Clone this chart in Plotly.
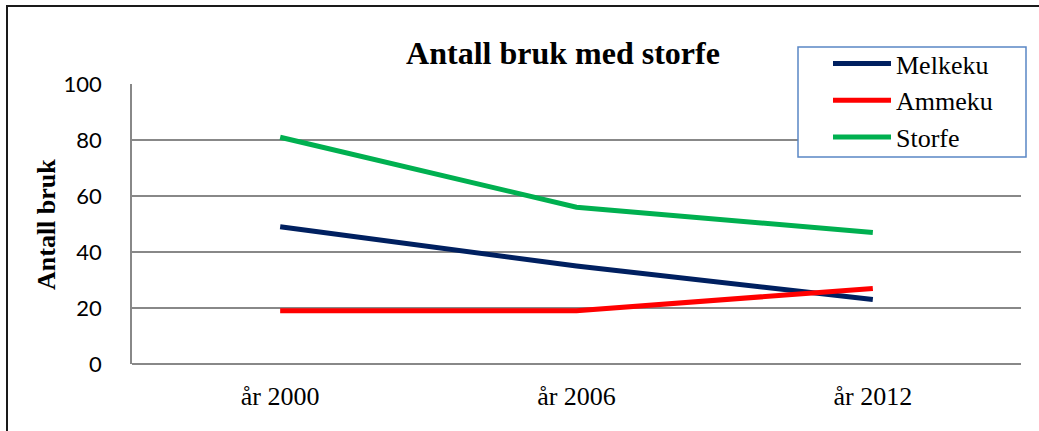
import plotly.graph_objects as go

years = ["år 2000", "år 2006", "år 2012"]
melkeku = [49, 35, 23]
ammeku = [19, 19, 27]
storfe = [81, 56, 47]
y_ticks = [0, 20, 40, 60, 80, 100]

W, H = 1039, 431
L, T = 132, 84
R = W - 1021
B = H - 364
pw, ph = W - L - R, H - T - B

def px_x(x):
    return (x - L) / pw

def px_y(y):
    return (H - B - y) / ph

fig = go.Figure()
series = [("Melkeku", melkeku, "#002060"), ("Ammeku", ammeku, "#FF0000"), ("Storfe", storfe, "#00B050")]
for name, vals, col in series:
    fig.add_trace(go.Scatter(x=years, y=vals, name=name, mode="lines",
                             line=dict(color=col, width=5)))

serif = "Liberation Serif, Times New Roman, serif"
fig.update_layout(
    width=W, height=H,
    margin=dict(l=L, r=R, t=T, b=B),
    paper_bgcolor="white", plot_bgcolor="white",
    font=dict(family=serif, color="black"),
    showlegend=True,
    title=dict(text="<b>Antall bruk med storfe</b>", font=dict(family=serif, size=32, color="black"),
               x=px_x(563), xref="paper", xanchor="center",
               y=1 - 53 / H, yref="container", yanchor="middle"),
    legend=dict(x=px_x(828), y=px_y(40), xanchor="left", yanchor="top",
                bgcolor="rgba(0,0,0,0)", borderwidth=0,
                font=dict(family=serif, size=26, color="black"),
                itemwidth=58, tracegroupgap=0),
    xaxis=dict(type="category", range=[-0.5, 2.5], showgrid=False,
               showline=False, zeroline=False, ticks="",
               tickfont=dict(family=serif, size=26, color="black"),
               ticklabelstandoff=14, fixedrange=True),
    yaxis=dict(range=[0, 100], tickvals=y_ticks, showgrid=True,
               gridcolor="#888888", gridwidth=1.5,
               showline=True, linecolor="#888888", linewidth=1.5,
               zeroline=True, zerolinecolor="#888888", zerolinewidth=1.5,
               ticks="", tickfont=dict(family="Lato, Liberation Sans, sans-serif", size=22, color="black"),
               ticklabelstandoff=24, fixedrange=True),
    shapes=[
        dict(type="rect", xref="paper", yref="paper",
             x0=px_x(7), x1=px_x(1060), y0=px_y(450), y1=px_y(6),
             line=dict(color="#1a1a1a", width=2), fillcolor="rgba(0,0,0,0)", layer="below"),
        dict(type="rect", xref="paper", yref="paper",
             x0=px_x(798), x1=px_x(1026), y0=px_y(157), y1=px_y(47),
             line=dict(color="#5A87C5", width=1.5), fillcolor="white", layer="above"),
    ],
    annotations=[
        dict(text="<b>Antall bruk</b>", xref="paper", yref="paper",
             x=px_x(46), y=px_y(225), xanchor="center", yanchor="middle",
             textangle=-90, showarrow=False,
             font=dict(family=serif, size=26, color="black")),
    ],
)

fig.write_html("out.html", config={"displayModeBar": False},
               post_script="document.body.style.margin='0';document.body.style.overflow='hidden';")
